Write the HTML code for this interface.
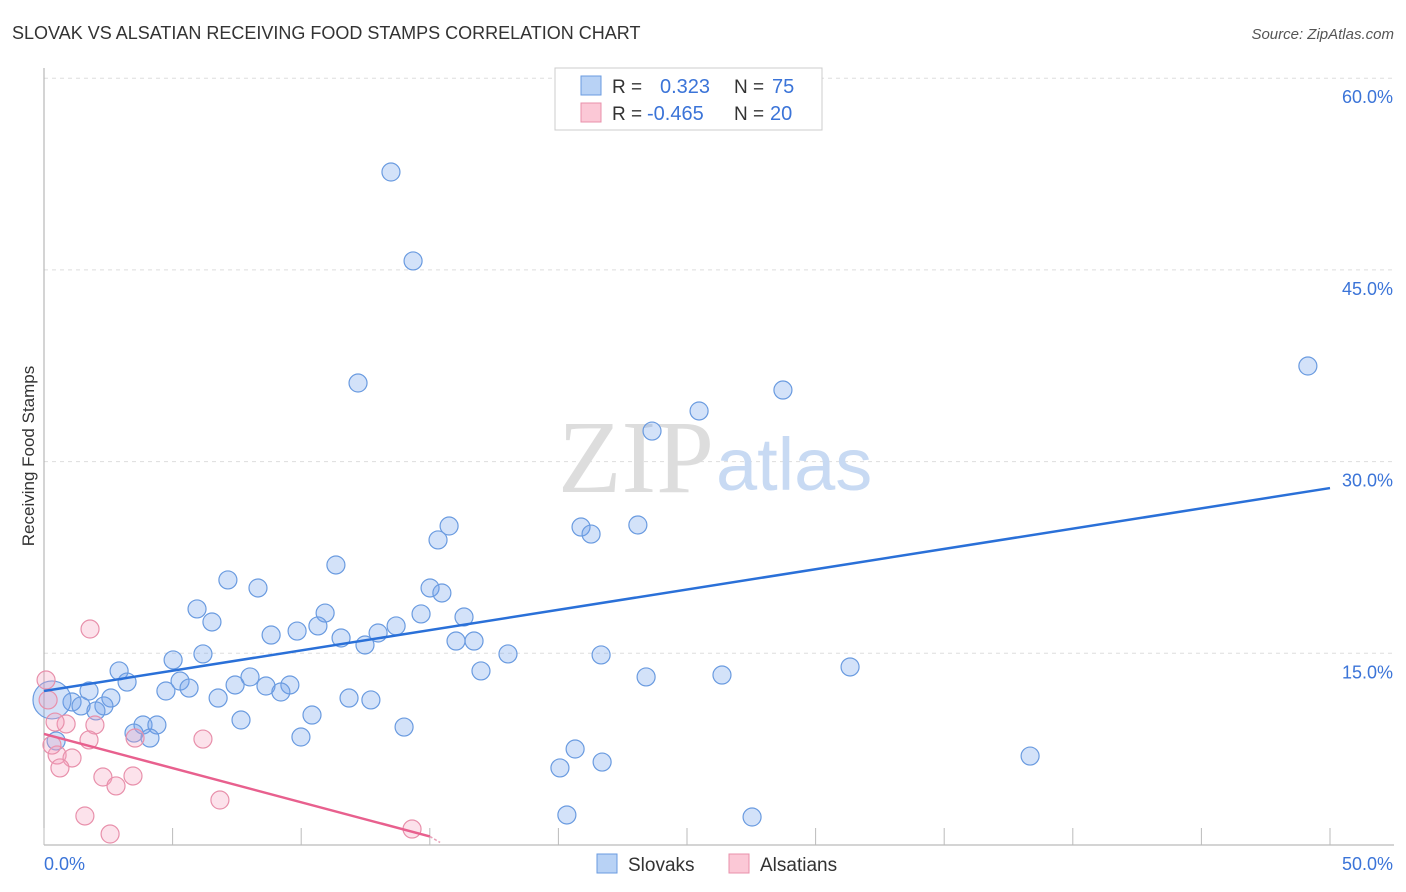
<!DOCTYPE html>
<html><head><meta charset="utf-8"><style>
body{margin:0;background:#fff;font-family:"Liberation Sans",Arial,sans-serif;}
#wrap{position:relative;width:1406px;height:892px;overflow:hidden}
</style></head><body><div id="wrap">
<svg id="svg" width="1406" height="892" xmlns="http://www.w3.org/2000/svg">
<text x="12" y="39" font-size="18" fill="#333">SLOVAK VS ALSATIAN RECEIVING FOOD STAMPS CORRELATION CHART</text>
<text x="1394" y="39" font-size="15" fill="#555" font-style="italic" text-anchor="end">Source: ZipAtlas.com</text>
<text x="0" y="0" transform="translate(34,456) rotate(-90)" font-size="17" fill="#333" text-anchor="middle">Receiving Food Stamps</text>
<g id="grid"></g>
<text x="714" y="492" font-size="104" fill="#ddd" text-anchor="end" font-family="Liberation Serif,serif">ZIP</text>
<text x="716" y="490" font-size="74" fill="#c8daf3">atlas</text>
<g id="pts"></g>
<g id="lines"></g>
<g>
<rect x="555" y="68" width="267" height="62" fill="#fff" stroke="#ccc"/>
<rect x="581" y="76" width="20" height="19" fill="#b8d2f5" stroke="#6a9be0"/>
<rect x="581" y="103" width="20" height="19" fill="#fbc8d6" stroke="#e890ab"/>
<text x="612" y="93" font-size="19" fill="#333">R = </text><text x="660" y="93" font-size="20" fill="#3b74d8">0.323</text>
<text x="734" y="93" font-size="19" fill="#333">N = </text><text x="772" y="93" font-size="20" fill="#3b74d8">75</text>
<text x="612" y="120" font-size="19" fill="#333">R = </text><text x="647" y="120" font-size="20" fill="#3b74d8">-0.465</text>
<text x="734" y="120" font-size="19" fill="#333">N = </text><text x="770" y="120" font-size="20" fill="#3b74d8">20</text>
</g>
<g>
<rect x="597" y="854" width="20" height="19" fill="#b8d2f5" stroke="#6a9be0"/>
<text x="628" y="871" font-size="19" fill="#333">Slovaks</text>
<rect x="729" y="854" width="20" height="19" fill="#fbc8d6" stroke="#e890ab"/>
<text x="760" y="871" font-size="19" fill="#333">Alsatians</text>
</g>
</svg></div>
<script>
const blueX=[13.49,14.35,12.21,49.14,28.73,25.47,23.64,15.75,15.32,20.88,21.27,23.09,11.35,7.15,8.32,15.01,15.47,5.95,10.93,6.53,16.33,14.66,13.69,12.99,10.65,9.84,8.83,11.55,12.48,16.02,16.72,18.04,21.66,5.02,6.18,2.92,16.99,23.41,26.36,31.34,8.01,5.29,3.23,7.43,8.63,9.56,5.64,4.74,9.21,1.75,2.60,6.77,11.86,12.71,1.09,1.44,2.33,2.02,10.42,7.66,3.85,4.39,3.50,4.12,9.99,14.00,0.47,20.65,38.34,20.06,21.70,20.33,27.53,0.31];
const blueY=[52.66,45.70,36.15,37.48,35.60,33.96,32.39,24.96,23.87,24.88,24.33,25.04,21.91,20.74,20.11,20.11,19.72,18.47,18.15,17.45,17.84,18.08,17.14,16.59,17.14,16.74,16.43,16.20,15.65,15.96,15.96,14.95,14.87,14.48,14.95,13.62,13.62,13.15,13.30,13.93,13.15,12.83,12.75,12.52,12.44,12.52,12.28,12.05,11.97,12.05,11.50,11.50,11.50,11.35,11.19,10.88,10.88,10.49,10.17,9.78,9.39,9.39,8.76,8.37,8.45,9.23,8.14,7.51,6.96,6.03,6.49,2.35,2.19,11.35];
const pinkX=[1.79,0.08,0.86,1.98,0.43,1.75,6.18,3.54,0.51,1.09,0.62,2.29,3.46,2.80,6.84,1.59,2.57,14.31,0.31,0.16];
const pinkY=[16.90,12.91,9.47,9.39,9.62,8.22,8.29,8.37,7.04,6.81,6.03,5.32,5.40,4.62,3.52,2.27,0.86,1.25,7.82,11.35];
const blueTrendX=[0,50], blueTrendY=[12.05,27.93];
const pinkTrendX=[0,15.0,15.4], pinkTrendY=[8.69,0.67,0.2];
const yTicks=[15,30,45,60], yTickLabels=["15.0%","30.0%","45.0%","60.0%"];
const xTicks=[0,5,10,15,20,25,30,35,40,45,50];
const NS="http://www.w3.org/2000/svg";
const sx=v=>44+v*25.72, sy=v=>845-v*12.78;
function mk(t,a,p){const e=document.createElementNS(NS,t);for(const k in a)e.setAttribute(k,a[k]);p.appendChild(e);return e;}
const grid=document.getElementById('grid');
yTicks.forEach((t,i)=>{
 const l=mk('line',{x1:44,x2:1394,y1:sy(t),y2:sy(t),stroke:'#ddd','stroke-dasharray':'4,4'},grid);
 
 
 const tx=mk('text',{x:1393,y:sy(t)+25,'font-size':18,fill:'#3b74d8','text-anchor':'end'},grid);tx.textContent=yTickLabels[i];
 
 
});
const ax=mk('line',{x1:44,x2:44,y1:68,y2:845,stroke:'#aaa'},grid);


const bx=mk('line',{x1:44,x2:1394,y1:845,y2:845,stroke:'#aaa'},grid);


xTicks.forEach(t=>{const l=mk('line',{x1:sx(t),x2:sx(t),y1:828,y2:845,stroke:'#bbb'},grid);
 
 });
const x0=mk('text',{x:44,y:870,'font-size':18,fill:'#3b74d8'},grid);x0.textContent='0.0%';


const x1=mk('text',{x:1393,y:870,'font-size':18,fill:'#3b74d8','text-anchor':'end'},grid);x1.textContent='50.0%';


const pts=document.getElementById('pts');
blueX.forEach((x,i)=>{const c=mk('circle',{cx:sx(x),cy:sy(blueY[i]),r:i==blueX.length-1?19:9,fill:'rgba(110,160,235,0.3)',stroke:'#6a9be0','stroke-width':1.2},pts);
 
 });
pinkX.forEach((x,i)=>{const c=mk('circle',{cx:sx(x),cy:sy(pinkY[i]),r:9,fill:'rgba(245,160,190,0.3)',stroke:'#e890ab','stroke-width':1.2},pts);
 
 });
const lines=document.getElementById('lines');
const bl=mk('line',{x1:sx(blueTrendX[0]),y1:sy(blueTrendY[0]),x2:sx(blueTrendX[1]),y2:sy(blueTrendY[1]),stroke:'#2a70d8','stroke-width':2.5},lines);


const pl=mk('line',{x1:sx(pinkTrendX[0]),y1:sy(pinkTrendY[0]),x2:sx(pinkTrendX[1]),y2:sy(pinkTrendY[1]),stroke:'#e8608e','stroke-width':2.5},lines);


const pd=mk('line',{x1:sx(pinkTrendX[1]),y1:sy(pinkTrendY[1]),x2:sx(pinkTrendX[2]),y2:sy(pinkTrendY[2]),stroke:'#e8a0b8','stroke-width':1.5,'stroke-dasharray':'3,2'},lines);


</script></body></html>
